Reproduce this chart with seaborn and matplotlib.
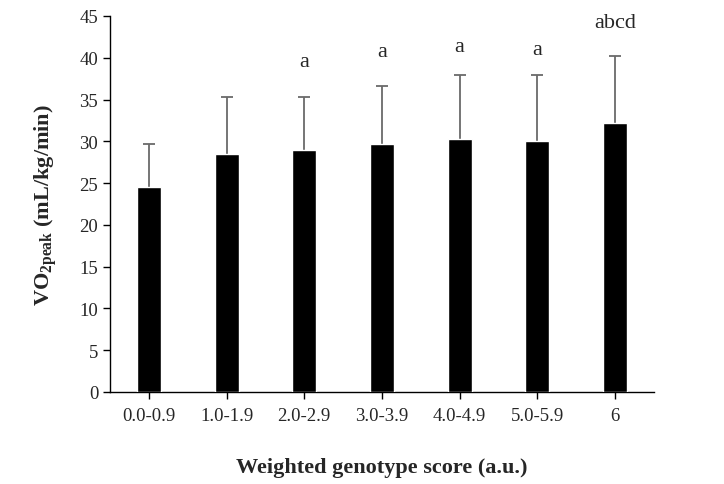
import matplotlib
matplotlib.use('Agg')
import matplotlib.pyplot as plt
import seaborn as sns
import pandas as pd
import numpy as np

# data
groups = ['0.0-0.9', '1.0-1.9', '2.0-2.9', '3.0-3.9', '4.0-4.9', '5.0-5.9', '6']
vo2 = [24.5, 28.5, 29.0, 29.7, 30.3, 30.0, 32.2]
sd = [5.2, 6.8, 6.3, 6.9, 7.6, 7.9, 8.0]
letters = ['', '', 'a', 'a', 'a', 'a', 'abcd']
letter_y = [0, 0, 39.6, 40.8, 41.4, 41.0, 44.2]

df = pd.DataFrame({'group': groups, 'vo2': vo2, 'sd': sd})

sns.set_style('ticks')
plt.rcParams['font.family'] = ['Liberation Serif', 'DejaVu Serif']
plt.rcParams['mathtext.fontset'] = 'custom'
plt.rcParams['mathtext.rm'] = 'Liberation Serif'
plt.rcParams['mathtext.bf'] = 'Liberation Serif:bold'

fig = plt.figure(figsize=(7.24, 4.85), dpi=100)
ax = fig.add_axes([0.152, 0.19, 0.751, 0.775])

sns.barplot(data=df, x='group', y='vo2', color='black', width=0.31,
            saturation=1, ax=ax)
for p in ax.patches:
    p.set_zorder(3)

# only the upper whisker; the lower cap sits hidden inside the bar
x = np.arange(len(groups))
ax.errorbar(x, df['vo2'], yerr=[np.full(len(sd), 1.0), df['sd']], fmt='none',
            ecolor='#6a6a6a', elinewidth=1.3, capsize=4, capthick=1.3, zorder=1)

for i, t in enumerate(letters):
    if t:
        ax.text(i, letter_y[i], t, ha='center', va='center', fontsize=16)

ax.set_ylim(0, 45)
ax.set_xlim(-0.5, len(groups) - 0.5)
ax.set_yticks(range(0, 46, 5))
ax.tick_params(axis='both', labelsize=13.5, length=5, width=1, color='black')
ax.tick_params(axis='x', pad=6)
for s in ['left', 'bottom']:
    ax.spines[s].set_color('black')
    ax.spines[s].set_linewidth(1)
sns.despine(ax=ax)

ax.set_xlabel('Weighted genotype score (a.u.)', fontsize=16, fontweight='bold', labelpad=24)
ax.set_ylabel(r'VO$_{\mathbf{2peak}}$ (mL/kg/min)', fontsize=16, fontweight='bold', labelpad=14)

fig.savefig('out.png', dpi=100)
